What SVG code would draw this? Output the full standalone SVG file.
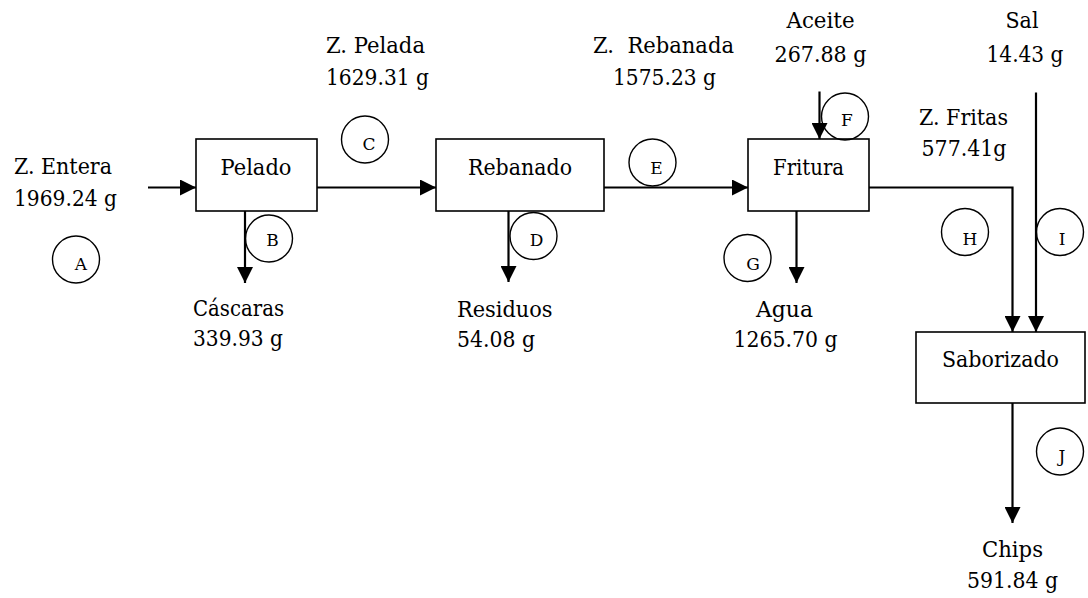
<svg xmlns="http://www.w3.org/2000/svg" width="1088" height="598" viewBox="0 0 1088 598">
<style>
text{font-family:'DejaVu Serif','Liberation Serif',serif;font-size:23px;fill:#000;white-space:pre}
.c{text-anchor:middle}
.lbl{font-size:17px}
.box{fill:#fff;stroke:#000;stroke-width:1.6}
.ring{fill:none;stroke:#000;stroke-width:1.4}
.flow{fill:none;stroke:#000;stroke-width:2.2}
.arr{marker-end:url(#ah)}
</style>
<defs>
<marker id="ah" markerUnits="userSpaceOnUse" markerWidth="16" markerHeight="16" refX="16" refY="8" orient="auto">
<path d="M0,0 L16,8 L0,16 z" fill="#000"/>
</marker>
</defs>
<rect width="1088" height="598" fill="#fff"/>
<g id="connectors">
<path class="flow arr" d="M148,187.5 H196"/>
<path class="flow arr" d="M317,187.5 H436"/>
<path class="flow arr" d="M604,187.5 H748"/>
<path class="flow arr" d="M819.5,91.5 V139"/>
<path class="flow arr" d="M245,211 V283"/>
<path class="flow arr" d="M508.5,211 V282"/>
<path class="flow arr" d="M796.5,211 V283"/>
<path class="flow arr" d="M869,187.5 H1012.5 V332"/>
<path class="flow arr" d="M1036,92.5 V332"/>
<path class="flow arr" d="M1012.5,403 V523"/>
</g>
<g id="pelado"><rect class="box" x="196" y="139" width="121" height="72"/><text class="c" x="256" y="175" textLength="71" lengthAdjust="spacingAndGlyphs">Pelado</text></g>
<g id="rebanado"><rect class="box" x="436" y="139" width="168" height="72"/><text class="c" x="520" y="175" textLength="104" lengthAdjust="spacingAndGlyphs">Rebanado</text></g>
<g id="fritura"><rect class="box" x="748" y="139" width="121" height="72"/><text class="c" x="808.5" y="175" textLength="71" lengthAdjust="spacingAndGlyphs">Fritura</text></g>
<g id="saborizado"><rect class="box" x="916" y="332" width="169" height="71"/><text class="c" x="1000.5" y="367" textLength="117" lengthAdjust="spacingAndGlyphs">Saborizado</text></g>
<g id="stream-labels">
<text x="14" y="174" textLength="98" lengthAdjust="spacingAndGlyphs">Z. Entera</text>
<text x="14" y="206" textLength="103" lengthAdjust="spacingAndGlyphs">1969.24 g</text>
<text x="326" y="53" textLength="99" lengthAdjust="spacingAndGlyphs">Z. Pelada</text>
<text x="326" y="85" textLength="103" lengthAdjust="spacingAndGlyphs">1629.31 g</text>
<text x="593" y="53" textLength="141" lengthAdjust="spacingAndGlyphs">Z.  Rebanada</text>
<text x="613" y="85" textLength="103" lengthAdjust="spacingAndGlyphs">1575.23 g</text>
<text class="c" x="820.5" y="28" textLength="68" lengthAdjust="spacingAndGlyphs">Aceite</text>
<text class="c" x="820.5" y="62" textLength="92" lengthAdjust="spacingAndGlyphs">267.88 g</text>
<text class="c" x="1022" y="28" textLength="33" lengthAdjust="spacingAndGlyphs">Sal</text>
<text class="c" x="1025" y="62" textLength="77" lengthAdjust="spacingAndGlyphs">14.43 g</text>
<text x="919" y="125" textLength="89" lengthAdjust="spacingAndGlyphs">Z. Fritas</text>
<text x="921.5" y="156" textLength="85" lengthAdjust="spacingAndGlyphs">577.41g</text>
<text x="193" y="316" textLength="91" lengthAdjust="spacingAndGlyphs">Cáscaras</text>
<text x="193" y="346" textLength="90" lengthAdjust="spacingAndGlyphs">339.93 g</text>
<text x="457" y="316.5" textLength="95.5" lengthAdjust="spacingAndGlyphs">Residuos</text>
<text x="457" y="346.5" textLength="78" lengthAdjust="spacingAndGlyphs">54.08 g</text>
<text class="c" x="784.5" y="316.5" textLength="57" lengthAdjust="spacingAndGlyphs">Agua</text>
<text class="c" x="785.5" y="346.5" textLength="104" lengthAdjust="spacingAndGlyphs">1265.70 g</text>
<text class="c" x="1012.5" y="557" textLength="61" lengthAdjust="spacingAndGlyphs">Chips</text>
<text class="c" x="1012.5" y="588" textLength="91" lengthAdjust="spacingAndGlyphs">591.84 g</text>
</g>
<g id="circle-A"><circle class="ring" cx="76" cy="259.5" r="23.5"/><text class="c lbl" x="81" y="270">A</text></g>
<g id="circle-B"><circle class="ring" cx="269" cy="238.5" r="23.5"/><text class="c lbl" x="272.5" y="245.5">B</text></g>
<g id="circle-C"><circle class="ring" cx="365" cy="139.5" r="23.5"/><text class="c lbl" x="369" y="150">C</text></g>
<g id="circle-D"><circle class="ring" cx="533.5" cy="236" r="23.5"/><text class="c lbl" x="536.5" y="245.5">D</text></g>
<g id="circle-E"><circle class="ring" cx="652.5" cy="162.5" r="23.5"/><text class="c lbl" x="656.5" y="174">E</text></g>
<g id="circle-F"><circle class="ring" cx="845" cy="116.5" r="23.5"/><text class="c lbl" x="847" y="126">F</text></g>
<g id="circle-G"><circle class="ring" cx="747.5" cy="258" r="23.5"/><text class="c lbl" x="753" y="270">G</text></g>
<g id="circle-H"><circle class="ring" cx="965" cy="232" r="23.5"/><text class="c lbl" x="970" y="245">H</text></g>
<g id="circle-I"><circle class="ring" cx="1060" cy="232" r="23.5"/><text class="c lbl" x="1062" y="245">I</text></g>
<g id="circle-J"><circle class="ring" cx="1060" cy="451.5" r="23.5"/><text class="c lbl" x="1062" y="461.5">J</text></g>
</svg>
